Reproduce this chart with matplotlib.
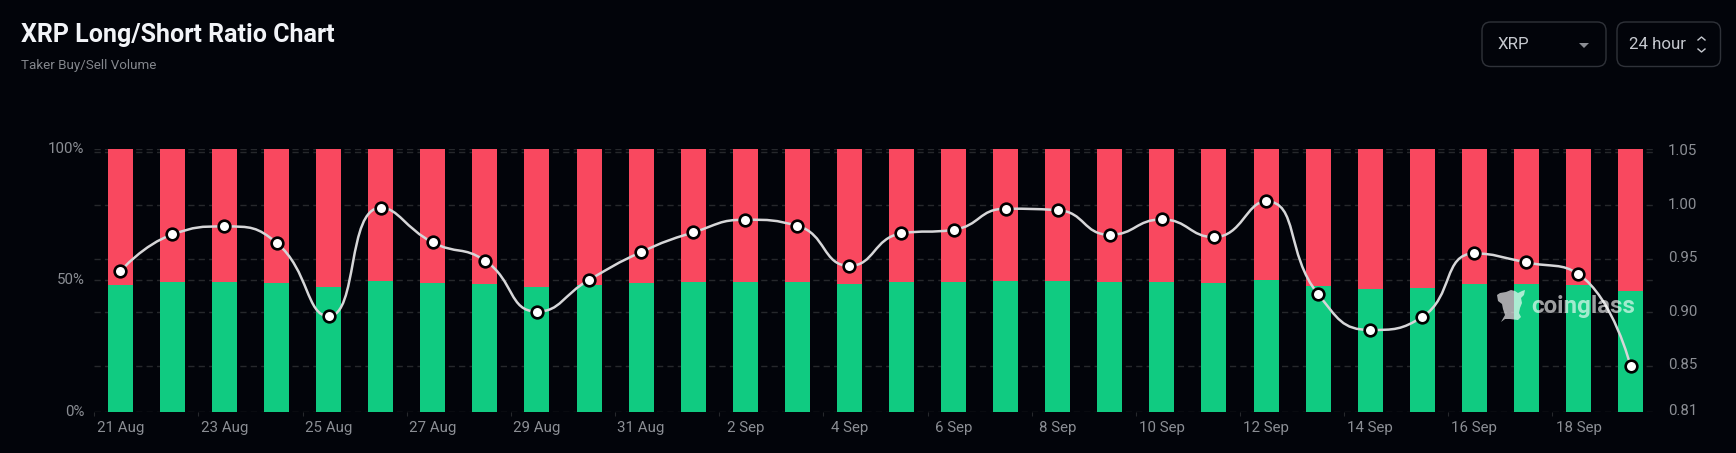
import matplotlib
matplotlib.use("Agg")
import matplotlib.pyplot as plt
import numpy as np
from matplotlib.path import Path
from matplotlib.patches import PathPatch, FancyBboxPatch, Polygon
from matplotlib.transforms import ScaledTranslation

BG = "#02040a"
GREEN = "#10cb81"
RED = "#f9485f"
TICK = "#8b8e94"
GRID = "#26282c"
BORDER = "#2f3239"

W, H = 1736, 453

# every day from 21 Aug to 19 Sep
dates = ["21 Aug", "22 Aug", "23 Aug", "24 Aug", "25 Aug", "26 Aug", "27 Aug", "28 Aug",
         "29 Aug", "30 Aug", "31 Aug", "1 Sep", "2 Sep", "3 Sep", "4 Sep", "5 Sep",
         "6 Sep", "7 Sep", "8 Sep", "9 Sep", "10 Sep", "11 Sep", "12 Sep", "13 Sep",
         "14 Sep", "15 Sep", "16 Sep", "17 Sep", "18 Sep", "19 Sep"]
long_pct = [48.35, 49.37, 49.49, 49.11, 47.34, 49.87, 49.11, 48.73,
            47.34, 48.22, 48.86, 49.37, 49.49, 49.49, 48.60, 49.37,
            49.49, 49.87, 49.87, 49.24, 49.49, 49.11, 50.13, 47.84,
            46.83, 47.21, 48.73, 48.73, 48.22, 45.81]
ratio = [0.9384, 0.9728, 0.9803, 0.9650, 0.8963, 0.9978, 0.9653, 0.9484,
         0.9006, 0.9303, 0.9563, 0.9747, 0.9866, 0.9809, 0.9434, 0.9738,
         0.9772, 0.9969, 0.9956, 0.9725, 0.9869, 0.9703, 1.0038, 0.9169,
         0.8834, 0.8956, 0.9550, 0.9466, 0.9356, 0.8497]
pct_ticks = [0, 50, 100]
pct_labels = ["0%", "50%", "100%"]
ratio_ticks = [0.85, 0.90, 0.95, 1.00, 1.05]
ratio_labels = ["0.85", "0.90", "0.95", "1.00", "1.05"]
ratio_min, ratio_max = 0.8069, 1.0528


def between(v, a, b):
    return np.minimum(np.maximum(v, np.minimum(a, b)), np.maximum(a, b))


def smooth_path(ax, xs, ys, smooth=0.5):
    '''bezier through the points, control points kept inside each segment's box'''
    pts = ax.transData.transform(list(zip(xs, ys)))
    n = len(pts)
    cp_out = [p for p in pts]
    cp_in = [p for p in pts]
    for i in range(1, n - 1):
        p, prev, nxt = pts[i], pts[i - 1], pts[i + 1]
        v = (nxt - prev) * smooth
        len_prev = np.hypot(*(p - prev))
        len_next = np.hypot(*(nxt - p))
        r = len_next / (len_next + len_prev)
        out = between(p + v * r, p, nxt)
        v2 = out - p
        inn = between(p - v2 * len_prev / len_next, prev, p)
        v2 = p - inn
        cp_in[i] = inn
        cp_out[i] = p + v2 * len_next / len_prev
    verts = [pts[0]]
    codes = [Path.MOVETO]
    for i in range(n - 1):
        verts += [cp_out[i], cp_in[i + 1], pts[i + 1]]
        codes += [Path.CURVE4] * 3
    return Path(ax.transData.inverted().transform(verts), codes)


def draw_chart():
    plt.rcParams["font.family"] = ["Roboto", "DejaVu Sans"]
    fig = plt.figure(figsize=(W / 100, H / 100), dpi=100, facecolor=BG)

    left, right, top, bottom = 94.3, 1656.6, 149, 411.7
    ax = fig.add_axes([left / W, 1 - bottom / H, (right - left) / W, (bottom - top) / H])
    ax.set_facecolor("none")
    for s in ax.spines.values():
        s.set_visible(False)

    x = list(range(len(dates)))
    short_pct = [100 - v for v in long_pct]

    ax.set_xlim(-0.5, len(dates) - 0.5)
    ax.set_ylim(0, 100)
    ax.bar(x, long_pct, width=0.48, color=GREEN, zorder=2)
    ax.bar(x, short_pct, width=0.48, bottom=long_pct, color=RED, zorder=2)

    ax.set_yticks(pct_ticks)
    ax.set_yticklabels(pct_labels, fontsize=10.8, color=TICK, va="center")
    ax.tick_params(axis="y", length=0, pad=7)
    ax.set_xticks(x[::2])
    ax.set_xticklabels(dates[::2], fontsize=10.8, color=TICK)
    ax.tick_params(axis="x", length=0, pad=7)
    ax.set_xticks([i - 0.5 for i in x[::2]], minor=True)
    ax.tick_params(axis="x", which="minor", length=3, width=0.8, color=GRID)

    ax2 = ax.twinx()
    ax2.set_facecolor("none")
    for s in ax2.spines.values():
        s.set_visible(False)
    ax2.set_ylim(ratio_min, ratio_max)
    ax2.set_yticks([ratio_min] + ratio_ticks)
    ax2.set_yticklabels(["0.81"] + ratio_labels, fontsize=10.8, color=TICK)
    ax2.tick_params(axis="y", length=0, pad=8)
    # right labels sit a little above their grid lines
    up = ScaledTranslation(0, 1.5 / 72, fig.dpi_scale_trans)
    for lab in ax2.get_yticklabels():
        lab.set_transform(lab.get_transform() + up)
    # grid on both scales, dashed, under the bars
    for v in ratio_ticks:
        ax.axhline((v - ratio_min) / (ratio_max - ratio_min) * 100, color=GRID,
                   lw=1, ls=(0, (4.5, 3)), zorder=1)
    for v in pct_ticks:
        ax.axhline(v, color=GRID, lw=1, ls=(0, (4.5, 3)), zorder=1)

    ax2.add_patch(PathPatch(smooth_path(ax2, x, ratio), fill=False, ec="#d6d6d8",
                            lw=1.8, zorder=4, capstyle="round"))
    ax2.plot(x, ratio, ls="none", marker="o", ms=8.4, mfc="white", mec="black",
             mew=1.9, zorder=5, clip_on=False)

    # page header
    fig.text(21 / W, 1 - 35 / H, "XRP Long/Short Ratio Chart", fontsize=18, fontweight="bold",
             color="#f2f4f8", va="center", ha="left")
    fig.text(21 / W, 1 - 65 / H, "Taker Buy/Sell Volume", fontsize=9.6, color="#84878d",
             va="center", ha="left")

    # the two selectors
    for bx, bw in [(1482, 124), (1617, 103.5)]:
        fig.add_artist(FancyBboxPatch((bx / W, 1 - 66.5 / H), bw / W, 44.5 / H,
                                      boxstyle="round,pad=0,rounding_size=0.005",
                                      mutation_aspect=W / H, fc="none", ec=BORDER, lw=1,
                                      transform=fig.transFigure))
    fig.text(1498 / W, 1 - 44.5 / H, "XRP", fontsize=12.2, color="#c6c9cf", va="center", ha="left")
    fig.text(1629 / W, 1 - 44.5 / H, "24 hour", fontsize=12.2, color="#c6c9cf", va="center", ha="left")
    fig.add_artist(Polygon([(1579 / W, 1 - 43 / H), (1589 / W, 1 - 43 / H), (1584 / W, 1 - 48 / H)],
                           fc="#8b8e94", ec="none", transform=fig.transFigure))
    for ys in [(40, 37, 40), (49, 52, 49)]:
        fig.add_artist(plt.Line2D([1698 / W, 1701.5 / W, 1705 / W], [1 - v / H for v in ys],
                                  color="#c6c9cf", lw=1, transform=fig.transFigure))

    # watermark
    fig.text(1531 / W, 1 - 306 / H, "coinglass", fontsize=17.4, fontweight="bold", color="white",
             alpha=0.62, va="center", ha="left", zorder=10)
    head = [(1497, 295), (1500, 293), (1506, 292), (1511, 290), (1515, 291), (1518, 293),
            (1522, 291), (1525, 290), (1524, 295), (1521, 298), (1522, 303), (1520, 308),
            (1519, 313), (1521, 317), (1518, 320), (1510, 319), (1505, 319), (1501, 322),
            (1505, 315), (1503, 309), (1502, 304), (1498, 301)]
    fig.add_artist(Polygon([(a / W, 1 - b / H) for a, b in head], fc="white", ec="none", alpha=0.65,
                           transform=fig.transFigure, zorder=10))

    fig.savefig("out.png", dpi=100, facecolor=BG)
    plt.close(fig)


def main():
    draw_chart()


if __name__ == "__main__":
    main()
